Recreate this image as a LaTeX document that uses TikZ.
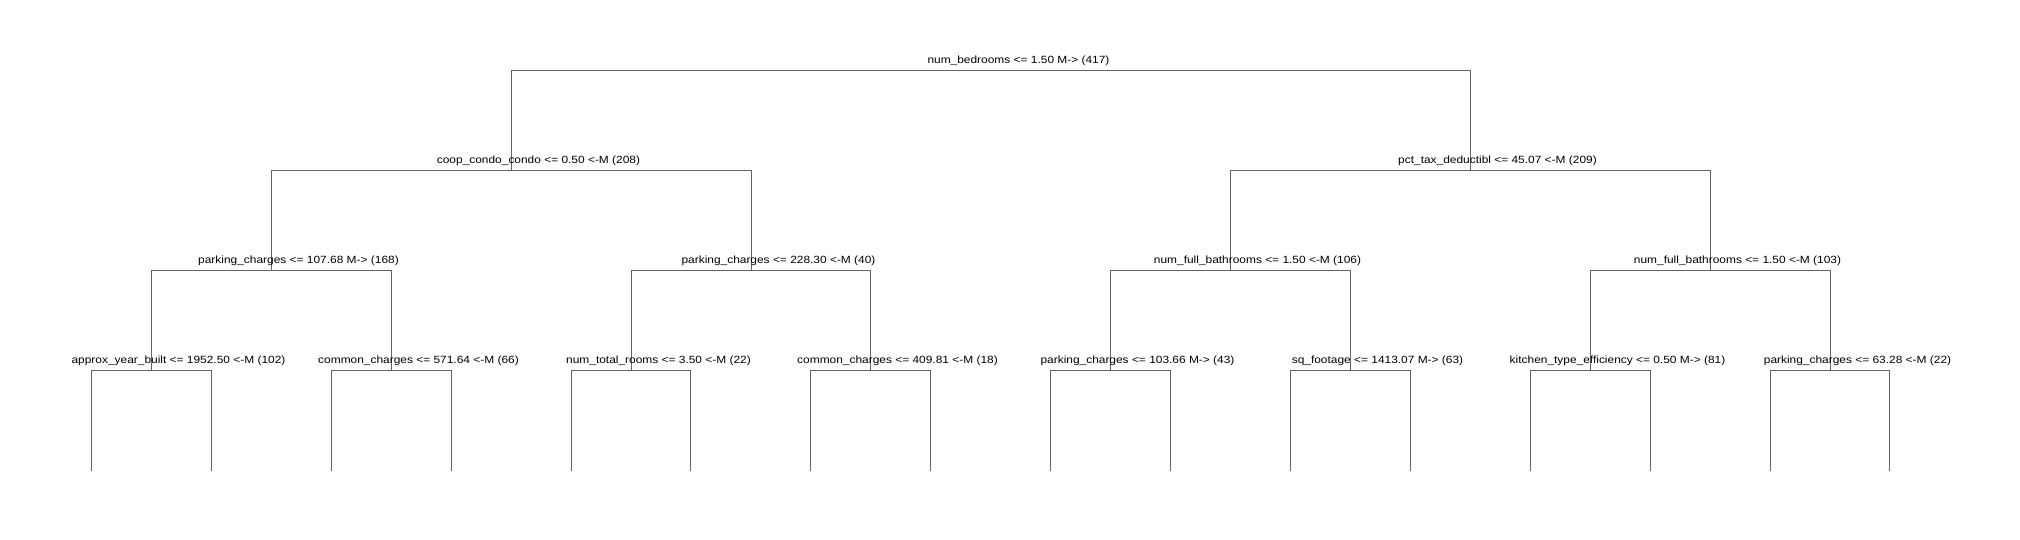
\documentclass[tikz,border=0pt]{standalone}
\usepackage{fontspec}
\setmainfont[FakeStretch=1.14]{Liberation Sans}
\usepackage{tikz}
\definecolor{branch}{RGB}{100,100,100}
\tikzstyle{tree}=[x=1bp,y=-1bp,line width=1.1bp,font=\fontsize{10.5}{12}\selectfont]
\tikzstyle{br}=[draw=branch]
\tikzstyle{lbl}=[anchor=base,inner sep=0pt,xshift=27bp,yshift=6.5bp]

\begin{document}
\begin{tikzpicture}[tree]
  \path[fill=white,use as bounding box] (0,0) rectangle (2020,540);
  \coordinate (n1)  at (991.5,70.5);
  \coordinate (n2)  at (511.5,170.5);
  \coordinate (n3)  at (1470.5,170.5);
  \coordinate (n4)  at (271.5,270.5);
  \coordinate (n5)  at (751.5,270.5);
  \coordinate (n6)  at (1230.5,270.5);
  \coordinate (n7)  at (1710.5,270.5);
  \coordinate (n8)  at (151.5,370.5);
  \coordinate (n9)  at (391.5,370.5);
  \coordinate (n10) at (631.5,370.5);
  \coordinate (n11) at (870.5,370.5);
  \coordinate (n12) at (1110.5,370.5);
  \coordinate (n13) at (1350.5,370.5);
  \coordinate (n14) at (1590.5,370.5);
  \coordinate (n15) at (1830.5,370.5);
% leaves
  \foreach \k [evaluate=\k as \n using int(16+\k)] in {0,...,15}
    \coordinate (n\n) at ({floor(91.5+119.9*\k)+0.5},470.5);
% 
  \foreach \i [evaluate=\i as \l using int(2*\i),
               evaluate=\i as \r using int(2*\i+1)] in {1,...,15}
    \draw[br] (n\l) |- (n\i) -| (n\r);
% 
  \node[lbl] (t1)  at (n1)  {num\_bedrooms <= 1.50 M-> (417)};
  \node[lbl] (t2)  at (n2)  {coop\_condo\_condo <= 0.50 <-M (208)};
  \node[lbl] (t3)  at (n3)  {pct\_tax\_deductibl <= 45.07 <-M (209)};
  \node[lbl] (t4)  at (n4)  {parking\_charges <= 107.68 M-> (168)};
  \node[lbl] (t5)  at (n5)  {parking\_charges <= 228.30 <-M (40)};
  \node[lbl] (t6)  at (n6)  {num\_full\_bathrooms <= 1.50 <-M (106)};
  \node[lbl] (t7)  at (n7)  {num\_full\_bathrooms <= 1.50 <-M (103)};
  \node[lbl] (t8)  at (n8)  {approx\_year\_built <= 1952.50 <-M (102)};
  \node[lbl] (t9)  at (n9)  {common\_charges <= 571.64 <-M (66)};
  \node[lbl] (t10) at (n10) {num\_total\_rooms <= 3.50 <-M (22)};
  \node[lbl] (t11) at (n11) {common\_charges <= 409.81 <-M (18)};
  \node[lbl] (t12) at (n12) {parking\_charges <= 103.66 M-> (43)};
  \node[lbl] (t13) at (n13) {sq\_footage <= 1413.07 M-> (63)};
  \node[lbl] (t14) at (n14) {kitchen\_type\_efficiency <= 0.50 M-> (81)};
  \node[lbl] (t15) at (n15) {parking\_charges <= 63.28 <-M (22)};
\end{tikzpicture}
\end{document}
